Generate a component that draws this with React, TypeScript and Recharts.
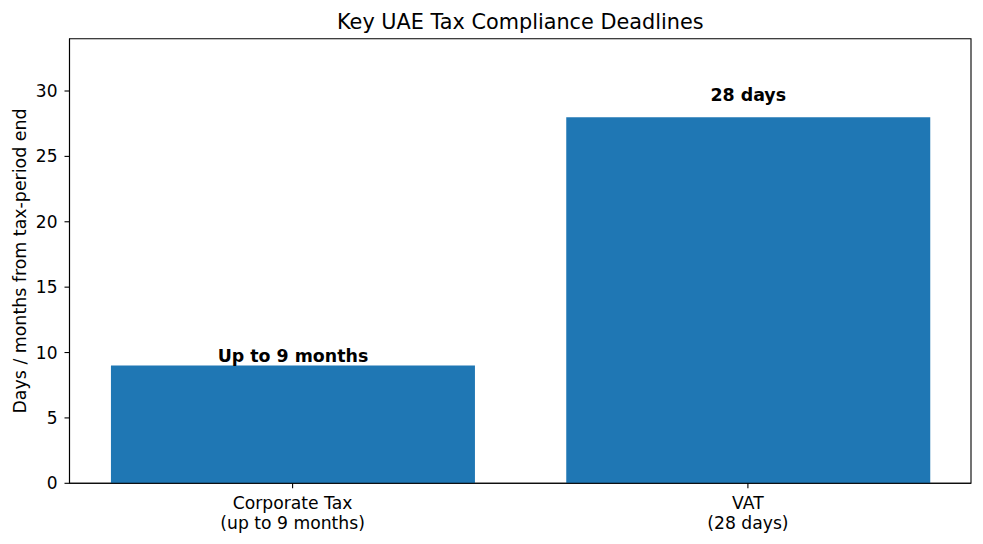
import React from "react";
import { BarChart, Bar, XAxis, YAxis, ReferenceArea } from "recharts";

const categories = ["Corporate Tax\n(up to 9 months)", "VAT\n(28 days)"];
const positions = [0, 1];
const values = [9, 28];
const annotations = ["Up to 9 months", "28 days"];
const annotationY = [9.07, 29.04];
const yTicks = [0, 5, 10, 15, 20, 25, 30];

const data = categories.map((c, i) => ({ name: c, pos: positions[i], value: values[i] }));

const FONT = "DejaVu Sans";
const W = 983;
const H = 544;

const XTick = (props: any) => {
  const { x, y, payload } = props;
  const idx = positions.indexOf(payload.value);
  const label = idx >= 0 ? categories[idx] : "";
  const lines = label.split("\n");
  return (
    <g>
      {lines.map((l, i) => (
        <text
          key={i}
          x={x}
          y={y + 20.9 + i * 19.5}
          textAnchor="middle"
          fontFamily={FONT}
          fontSize={17.2}
          fill="#000"
        >
          {l}
        </text>
      ))}
    </g>
  );
};

const renderAnnot = (props: any) => {
  const { x, y, width, height, index } = props;
  const v = values[index];
  const base = y + height;
  const pxPerUnit = height / v;
  const bottom = base - annotationY[index] * pxPerUnit;
  return (
    <text
      x={x + width / 2}
      y={bottom - 2.7}
      textAnchor="middle"
      fontFamily={FONT}
      fontSize={17.4}
      fontWeight="bold"
      fill="#000"
    >
      {annotations[index]}
    </text>
  );
};

export default function App() {
  return (
    <div style={{ position: "absolute", left: 0, top: 0, width: W, height: H, background: "#fff" }}>
      <BarChart
        width={W}
        height={H}
        data={data}
        margin={{ top: 38.7, right: 12, bottom: 10.7, left: 9.5 }}
      >
        <XAxis
          dataKey="pos"
          type="number"
          domain={[-0.49, 1.49]}
          ticks={positions}
          allowDataOverflow
          height={50}
          tickSize={5}
          tickMargin={0}
          tick={<XTick />}
          axisLine={{ stroke: "#000", strokeWidth: 1.1 }}
          tickLine={{ stroke: "#000", strokeWidth: 1.1 }}
          interval={0}
        />
        <YAxis
          type="number"
          domain={[0, 34]}
          ticks={yTicks}
          allowDataOverflow
          width={60}
          tickSize={5}
          tickMargin={7}
          tick={{ fontFamily: FONT, fontSize: 17, fill: "#000" }}
          axisLine={{ stroke: "#000", strokeWidth: 1.1 }}
          tickLine={{ stroke: "#000", strokeWidth: 1.1 }}
          interval={0}
        />
        <Bar
          dataKey="value"
          fill="#1f77b4"
          barSize={364}
          isAnimationActive={false}
          label={renderAnnot}
        />
        <ReferenceArea
          x1={-0.49}
          x2={1.49}
          y1={0}
          y2={34}
          fill="none"
          fillOpacity={0}
          stroke="#000"
          strokeWidth={1.1}
          strokeOpacity={1}
        />
      </BarChart>
      <svg
        width={W}
        height={H}
        style={{ position: "absolute", left: 0, top: 0, pointerEvents: "none" }}
      >
        <text
          x={520.3}
          y={28.7}
          textAnchor="middle"
          fontFamily={FONT}
          fontSize={20.8}
          fill="#000"
        >
          Key UAE Tax Compliance Deadlines
        </text>
        <text
          x={0}
          y={0}
          transform="translate(26,261) rotate(-90)"
          textAnchor="middle"
          fontFamily={FONT}
          fontSize={17.4}
          fill="#000"
        >
          Days / months from tax-period end
        </text>
      </svg>
    </div>
  );
}
